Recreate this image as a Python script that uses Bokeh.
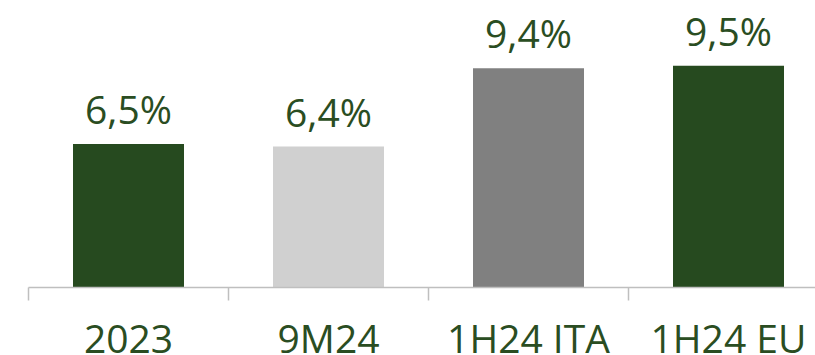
from bokeh.plotting import figure
from bokeh.models import Range1d, FixedTicker, ColumnDataSource, LabelSet
from bokeh.core.properties import value
from bokeh.embed import file_html
from bokeh.resources import INLINE

# Data
categories = ["2023", "9M24", "1H24 ITA", "1H24 EU"]
rates = [6.5, 6.4, 9.4, 9.5]
bar_colors = ["#264a1f", "#d0d0d0", "#808080", "#264a1f"]
rate_labels = ["6,5%", "6,4%", "9,4%", "9,5%"]

AXIS_MIN = 1.0
TEXT_GREEN = "#2a4d22"
FONT = "Open Sans"

centers = [i + 0.5 for i in range(len(categories))]
source = ColumnDataSource(dict(x=centers, top=rates, color=bar_colors, label=rate_labels,
                               base=[AXIS_MIN] * len(categories)))

# the frame fills the whole canvas; the category axis sits at AXIS_MIN inside it
p = figure(
    width=815, height=355,
    x_range=Range1d(-0.14, 3.935),
    y_range=Range1d(-1.606, 12.0),
    output_backend="svg", toolbar_location=None,
    min_border=0,
    outline_line_color=None,
)
p.yaxis.visible = False
p.grid.visible = False

p.vbar(x="x", top="top", bottom="base", width=0.555, color="color", line_color=None, source=source)

# value labels above the bars
p.add_layout(LabelSet(x="x", y="top", text="label", source=source,
                      text_align="center", text_baseline="alphabetic", y_offset=20,
                      text_font=value(FONT), text_font_size="39px", text_color=TEXT_GREEN))

ax = p.xaxis[0]
ax.fixed_location = AXIS_MIN
ax.ticker = FixedTicker(ticks=centers, minor_ticks=[0, 1, 2, 3, 4])
ax.major_label_overrides = {c: cat for c, cat in zip(centers, categories)}
ax.bounds = (0, 4)
ax.axis_line_color = "#bfbfbf"
ax.axis_line_width = 1.5
ax.major_tick_line_color = None
ax.major_tick_out = 0
ax.major_tick_in = 0
ax.minor_tick_line_color = "#bfbfbf"
ax.minor_tick_line_width = 1.5
ax.minor_tick_out = 13
ax.minor_tick_in = 0
ax.major_label_standoff = 10
ax.major_label_text_font = FONT
ax.major_label_text_font_size = "39px"
ax.major_label_text_color = TEXT_GREEN

open("out.html", "w").write(file_html(p, INLINE))
